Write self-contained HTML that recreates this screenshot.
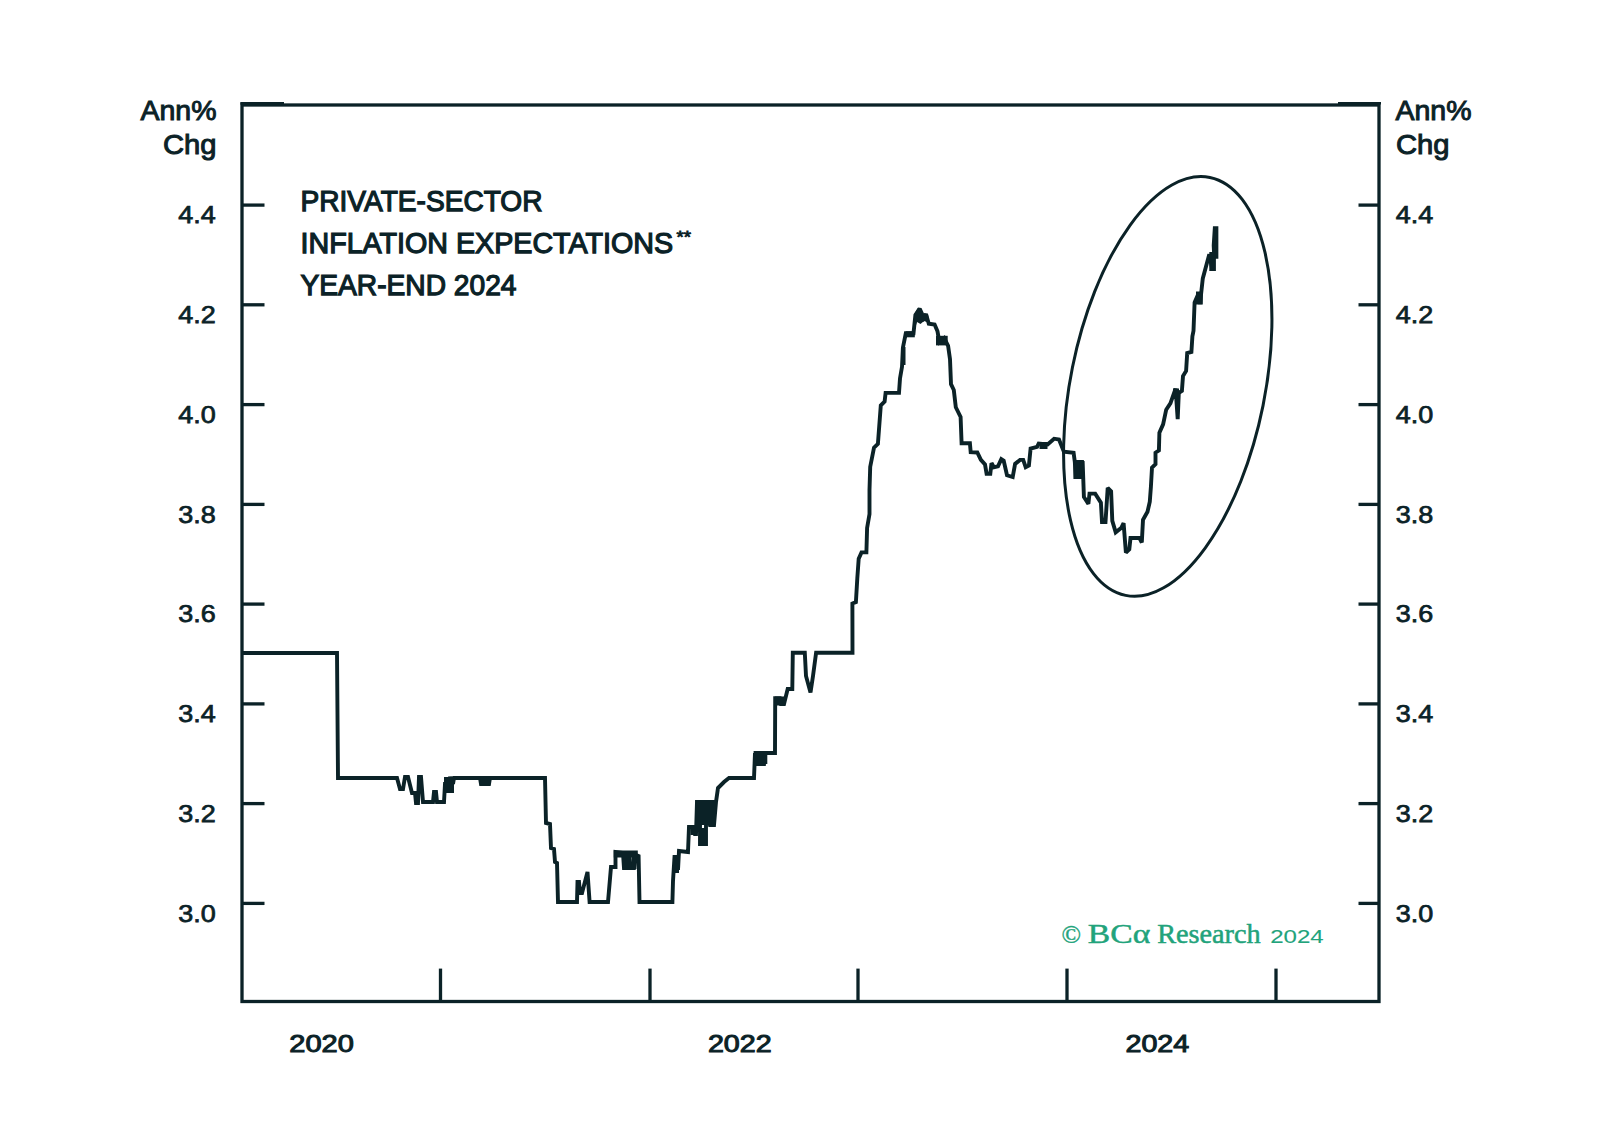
<!DOCTYPE html>
<html><head><meta charset="utf-8"><style>
html,body{margin:0;padding:0;background:#fff;width:1598px;height:1144px;overflow:hidden;}
svg{display:block;}
</style></head><body>
<svg width="1598" height="1144" viewBox="0 0 1598 1144"><rect width="1598" height="1144" fill="#ffffff"/><g stroke="#0b2227" stroke-width="3.3" fill="none"><rect x="242" y="105" width="1137" height="896.5"/><line x1="240.3" y1="103.2" x2="284" y2="103.2" stroke-width="2.6"/><line x1="1338" y1="103.2" x2="1381" y2="103.2" stroke-width="2.6"/><line x1="243" y1="903.4" x2="264.5" y2="903.4"/><line x1="1358.5" y1="903.4" x2="1378" y2="903.4"/><line x1="243" y1="803.6" x2="264.5" y2="803.6"/><line x1="1358.5" y1="803.6" x2="1378" y2="803.6"/><line x1="243" y1="703.9" x2="264.5" y2="703.9"/><line x1="1358.5" y1="703.9" x2="1378" y2="703.9"/><line x1="243" y1="604.1" x2="264.5" y2="604.1"/><line x1="1358.5" y1="604.1" x2="1378" y2="604.1"/><line x1="243" y1="504.4" x2="264.5" y2="504.4"/><line x1="1358.5" y1="504.4" x2="1378" y2="504.4"/><line x1="243" y1="404.6" x2="264.5" y2="404.6"/><line x1="1358.5" y1="404.6" x2="1378" y2="404.6"/><line x1="243" y1="304.8" x2="264.5" y2="304.8"/><line x1="1358.5" y1="304.8" x2="1378" y2="304.8"/><line x1="243" y1="205.1" x2="264.5" y2="205.1"/><line x1="1358.5" y1="205.1" x2="1378" y2="205.1"/><line x1="440.5" y1="968.6" x2="440.5" y2="1000"/><line x1="650" y1="968.6" x2="650" y2="1000"/><line x1="858" y1="968.6" x2="858" y2="1000"/><line x1="1067" y1="968.6" x2="1067" y2="1000"/><line x1="1276" y1="968.6" x2="1276" y2="1000"/></g><ellipse cx="1167.75" cy="386.4" rx="97.2" ry="213.2" transform="rotate(11.4 1167.75 386.4)" fill="none" stroke="#0b2227" stroke-width="3.0"/><path d="M242,653 L337,653 L338,778 L397,778 L400,789 L403,789 L405,777 L408,777 L412,793 L415,793 L416,803 L418,803 L419,777 L421,777 L423,802 L433,802 L434,792 L436,792 L437,802 L444,802 L445,784 L448,784 L450,777 L453,784 L454,778 L480,778 L481,784 L489,784 L490,778 L545,778 L546,823 L550,824 L551,848 L554,849 L555,862 L557,863 L558,902 L577,902 L577.5,882 L579,882 L580,893 L582,893 L587.5,872 L589.6,902 L608,902 L611,867 L615.5,867 L615.5,852 L623,853 L624,868 L628,868 L629,856 L631,868 L634,868 L636,855 L638.6,856 L639.5,902 L672.4,902 L673,881 L674.5,857 L677,857 L678,870 L679,851 L688,852 L689,827 L694,827 L695,834 L696,834 L697,802 L700,802 L700,844 L706,844 L706,808 L710,825 L714,825 L716,802 L718,788 L724,782 L729,778 L754,778 L755,753 L756,764 L764,764 L765,753 L775,753 L775.2,698.2 L779.8,698.2 L781,704 L784,704 L787.7,689 L792.3,689 L792.8,652.7 L804.8,652.7 L806,676 L810.5,692.5 L813,676 L816.1,652.7 L852.5,652.7 L852.4,603.5 L855.9,602.1 L857.3,578.3 L858.7,558.7 L861.5,552.4 L866.4,552.4 L867.1,528 L869.5,514 L869.5,490 L870.2,466.9 L874,447.7 L877.9,443.8 L880.8,405.4 L884.6,401.5 L885.6,392.9 L899,392.9 L900,378.5 L902,366.9 L902.9,347.7 L905.8,333.3 L913.5,333.3 L915.4,315 L919.2,309.2 L922.1,320.8 L926,314 L928.8,323.7 L934.6,324.6 L937.5,331.3 L939.4,342 L944.2,338 L948.1,345.8 L950,359.2 L951,384.2 L953.8,390 L955.8,407.3 L960.6,416.9 L961.6,443.2 L969.9,443.2 L970.7,452.1 L977.3,452.5 L980.9,459.9 L985,464.3 L986.6,473.7 L990.3,473.7 L991.5,463.1 L993.9,467.2 L998,466.4 L1001.3,459.1 L1003.7,460.7 L1007,475.3 L1012.7,477 L1015.1,463.9 L1020,459.9 L1023.2,459.9 L1025.7,467.2 L1028.9,465.6 L1030.6,448.5 L1037.1,446.9 L1038.7,443.6 L1047.6,444.4 L1054.1,438.7 L1059,439.5 L1063.9,451.7 L1073.6,452.7 L1074.8,461.8 L1075.9,477.7 L1078.2,475.5 L1079.3,463 L1082.7,463 L1083.9,497 L1088.4,503.9 L1089.5,493.6 L1095.2,493.6 L1100.9,502.7 L1102,522 L1105.5,522 L1107.7,488 L1111.1,491.4 L1112.3,520.9 L1115.7,532.3 L1121.4,527.7 L1123.6,523.2 L1125.9,552.7 L1129.3,549.3 L1130.5,538 L1139.5,538 L1141.8,542.5 L1143,519.8 L1147.5,511.8 L1149.8,501.6 L1150.9,486.8 L1152,467.5 L1155.5,464.1 L1155.5,452.7 L1158.9,450.5 L1159.4,432.7 L1163.1,424.3 L1166.2,409.7 L1170.4,403.4 L1175.6,388.7 L1177.7,419.1 L1178.8,392.9 L1181.9,390.8 L1183,376.1 L1186.1,370.9 L1187.2,353.1 L1191.4,352 L1192.4,336.3 L1193.5,330.8 L1194.6,302.4 L1198.4,293.7 L1200,304 L1202.8,278.4 L1209.3,254.3 L1212,268 L1214,252 L1213.7,245.6 L1214.8,228.1 L1216.4,228.1 L1216.4,258.7" fill="none" stroke="#0b2227" stroke-width="3.9" stroke-linejoin="miter" stroke-miterlimit="2"/><polygon points="913.5,333 914.5,314 918,307.5 921.5,308 924,313.5 928,314.5 929.5,323 924,321 920.5,324 917,322 913.5,333" fill="#0b2227"/><rect x="480.5" y="776" width="10" height="8.5" fill="#0b2227"/><rect x="444" y="777" width="10" height="16" fill="#0b2227"/><rect x="613.8" y="850.5" width="24" height="7" fill="#0b2227"/><rect x="623" y="856" width="5" height="13" fill="#0b2227"/><rect x="631.5" y="856" width="5" height="13" fill="#0b2227"/><rect x="675" y="856" width="4" height="17" fill="#0b2227"/><rect x="690.5" y="828" width="6.5" height="7" fill="#0b2227"/><rect x="699.5" y="828" width="7.5" height="16" fill="#0b2227"/><rect x="695.5" y="800" width="20.5" height="25" fill="#0b2227"/><rect x="753.6" y="751" width="13.7" height="13" fill="#0b2227"/><rect x="775" y="696.5" width="10" height="9" fill="#0b2227"/><rect x="1073.6" y="460" width="10.3" height="19" fill="#0b2227"/><rect x="1039.5" y="442" width="8" height="7" fill="#0b2227"/><rect x="1073.7" y="461" width="6" height="18" fill="#0b2227"/><rect x="1173" y="388.5" width="6" height="8" fill="#0b2227"/><rect x="1196" y="291.5" width="6.8" height="13" fill="#0b2227"/><rect x="1209.3" y="252" width="6.6" height="19" fill="#0b2227"/><rect x="905.8" y="331.3" width="9" height="6" fill="#0b2227"/><rect x="901" y="347" width="4.5" height="18" fill="#0b2227"/><rect x="936" y="335.8" width="11.7" height="9.6" fill="#0b2227"/><text x="140.5" y="120.3" font-family="Liberation Sans, sans-serif" font-size="28.5" font-weight="normal" fill="#0b2227" text-anchor="start" textLength="76" lengthAdjust="spacingAndGlyphs" stroke="#0b2227" stroke-width="1.0">Ann%</text><text x="163.0" y="153.7" font-family="Liberation Sans, sans-serif" font-size="28.5" font-weight="normal" fill="#0b2227" text-anchor="start" textLength="53.5" lengthAdjust="spacingAndGlyphs" stroke="#0b2227" stroke-width="1.0">Chg</text><text x="1395.5" y="120.3" font-family="Liberation Sans, sans-serif" font-size="28.5" font-weight="normal" fill="#0b2227" text-anchor="start" textLength="76" lengthAdjust="spacingAndGlyphs" stroke="#0b2227" stroke-width="1.0">Ann%</text><text x="1396.0" y="153.7" font-family="Liberation Sans, sans-serif" font-size="28.5" font-weight="normal" fill="#0b2227" text-anchor="start" textLength="53.5" lengthAdjust="spacingAndGlyphs" stroke="#0b2227" stroke-width="1.0">Chg</text><text x="178.3" y="921.6999999999999" font-family="Liberation Sans, sans-serif" font-size="24.5" font-weight="normal" fill="#0b2227" text-anchor="start" textLength="37.5" lengthAdjust="spacingAndGlyphs" stroke="#0b2227" stroke-width="0.75">3.0</text><text x="1395.8" y="921.6999999999999" font-family="Liberation Sans, sans-serif" font-size="24.5" font-weight="normal" fill="#0b2227" text-anchor="start" textLength="37.5" lengthAdjust="spacingAndGlyphs" stroke="#0b2227" stroke-width="0.75">3.0</text><text x="178.3" y="821.9399999999998" font-family="Liberation Sans, sans-serif" font-size="24.5" font-weight="normal" fill="#0b2227" text-anchor="start" textLength="37.5" lengthAdjust="spacingAndGlyphs" stroke="#0b2227" stroke-width="0.75">3.2</text><text x="1395.8" y="821.9399999999998" font-family="Liberation Sans, sans-serif" font-size="24.5" font-weight="normal" fill="#0b2227" text-anchor="start" textLength="37.5" lengthAdjust="spacingAndGlyphs" stroke="#0b2227" stroke-width="0.75">3.2</text><text x="178.3" y="722.18" font-family="Liberation Sans, sans-serif" font-size="24.5" font-weight="normal" fill="#0b2227" text-anchor="start" textLength="37.5" lengthAdjust="spacingAndGlyphs" stroke="#0b2227" stroke-width="0.75">3.4</text><text x="1395.8" y="722.18" font-family="Liberation Sans, sans-serif" font-size="24.5" font-weight="normal" fill="#0b2227" text-anchor="start" textLength="37.5" lengthAdjust="spacingAndGlyphs" stroke="#0b2227" stroke-width="0.75">3.4</text><text x="178.3" y="622.4199999999998" font-family="Liberation Sans, sans-serif" font-size="24.5" font-weight="normal" fill="#0b2227" text-anchor="start" textLength="37.5" lengthAdjust="spacingAndGlyphs" stroke="#0b2227" stroke-width="0.75">3.6</text><text x="1395.8" y="622.4199999999998" font-family="Liberation Sans, sans-serif" font-size="24.5" font-weight="normal" fill="#0b2227" text-anchor="start" textLength="37.5" lengthAdjust="spacingAndGlyphs" stroke="#0b2227" stroke-width="0.75">3.6</text><text x="178.3" y="522.6600000000001" font-family="Liberation Sans, sans-serif" font-size="24.5" font-weight="normal" fill="#0b2227" text-anchor="start" textLength="37.5" lengthAdjust="spacingAndGlyphs" stroke="#0b2227" stroke-width="0.75">3.8</text><text x="1395.8" y="522.6600000000001" font-family="Liberation Sans, sans-serif" font-size="24.5" font-weight="normal" fill="#0b2227" text-anchor="start" textLength="37.5" lengthAdjust="spacingAndGlyphs" stroke="#0b2227" stroke-width="0.75">3.8</text><text x="178.3" y="422.9" font-family="Liberation Sans, sans-serif" font-size="24.5" font-weight="normal" fill="#0b2227" text-anchor="start" textLength="37.5" lengthAdjust="spacingAndGlyphs" stroke="#0b2227" stroke-width="0.75">4.0</text><text x="1395.8" y="422.9" font-family="Liberation Sans, sans-serif" font-size="24.5" font-weight="normal" fill="#0b2227" text-anchor="start" textLength="37.5" lengthAdjust="spacingAndGlyphs" stroke="#0b2227" stroke-width="0.75">4.0</text><text x="178.3" y="323.13999999999993" font-family="Liberation Sans, sans-serif" font-size="24.5" font-weight="normal" fill="#0b2227" text-anchor="start" textLength="37.5" lengthAdjust="spacingAndGlyphs" stroke="#0b2227" stroke-width="0.75">4.2</text><text x="1395.8" y="323.13999999999993" font-family="Liberation Sans, sans-serif" font-size="24.5" font-weight="normal" fill="#0b2227" text-anchor="start" textLength="37.5" lengthAdjust="spacingAndGlyphs" stroke="#0b2227" stroke-width="0.75">4.2</text><text x="178.3" y="223.37999999999982" font-family="Liberation Sans, sans-serif" font-size="24.5" font-weight="normal" fill="#0b2227" text-anchor="start" textLength="37.5" lengthAdjust="spacingAndGlyphs" stroke="#0b2227" stroke-width="0.75">4.4</text><text x="1395.8" y="223.37999999999982" font-family="Liberation Sans, sans-serif" font-size="24.5" font-weight="normal" fill="#0b2227" text-anchor="start" textLength="37.5" lengthAdjust="spacingAndGlyphs" stroke="#0b2227" stroke-width="0.75">4.4</text><text x="289.3" y="1052.3" font-family="Liberation Sans, sans-serif" font-size="24" font-weight="normal" fill="#0b2227" text-anchor="start" textLength="64.5" lengthAdjust="spacingAndGlyphs" stroke="#0b2227" stroke-width="1.0">2020</text><text x="707.9" y="1052.3" font-family="Liberation Sans, sans-serif" font-size="24" font-weight="normal" fill="#0b2227" text-anchor="start" textLength="63.7" lengthAdjust="spacingAndGlyphs" stroke="#0b2227" stroke-width="1.0">2022</text><text x="1125.5" y="1052.3" font-family="Liberation Sans, sans-serif" font-size="24" font-weight="normal" fill="#0b2227" text-anchor="start" textLength="63.7" lengthAdjust="spacingAndGlyphs" stroke="#0b2227" stroke-width="1.0">2024</text><text x="300.5" y="211.0" font-family="Liberation Sans, sans-serif" font-size="29.5" font-weight="normal" fill="#0b2227" text-anchor="start" textLength="242" lengthAdjust="spacingAndGlyphs" stroke="#0b2227" stroke-width="1.25">PRIVATE-SECTOR</text><text x="300.5" y="252.5" font-family="Liberation Sans, sans-serif" font-size="29.5" font-weight="normal" fill="#0b2227" text-anchor="start" textLength="372.5" lengthAdjust="spacingAndGlyphs" stroke="#0b2227" stroke-width="1.25">INFLATION EXPECTATIONS</text><text x="676.5" y="243" font-family="Liberation Sans, sans-serif" font-size="16" font-weight="normal" fill="#0b2227" text-anchor="start" textLength="14.5" lengthAdjust="spacingAndGlyphs" stroke="#0b2227" stroke-width="0.8">**</text><text x="300.5" y="294.5" font-family="Liberation Sans, sans-serif" font-size="29.5" font-weight="normal" fill="#0b2227" text-anchor="start" textLength="216" lengthAdjust="spacingAndGlyphs" stroke="#0b2227" stroke-width="1.25">YEAR-END 2024</text><text x="1061.5" y="942.5" font-family="Liberation Serif, sans-serif" font-size="25" font-weight="normal" fill="#22a37b" text-anchor="start" textLength="19.5" lengthAdjust="spacingAndGlyphs" stroke="#22a37b" stroke-width="0.4">©</text><text x="1087.8" y="943" font-family="Liberation Serif, sans-serif" font-size="26.5" font-weight="normal" fill="#22a37b" text-anchor="start" textLength="62.5" lengthAdjust="spacingAndGlyphs" stroke="#22a37b" stroke-width="0.45">BCα</text><text x="1157.2" y="943" font-family="Liberation Serif, sans-serif" font-size="26.5" font-weight="normal" fill="#22a37b" text-anchor="start" textLength="103.5" lengthAdjust="spacingAndGlyphs" stroke="#22a37b" stroke-width="0.5">Research</text><text x="1270.2" y="943" font-family="Liberation Sans, sans-serif" font-size="19" font-weight="normal" fill="#22a37b" text-anchor="start" textLength="53.5" lengthAdjust="spacingAndGlyphs" stroke="#22a37b" stroke-width="0.1">2024</text></svg>
</body></html>
